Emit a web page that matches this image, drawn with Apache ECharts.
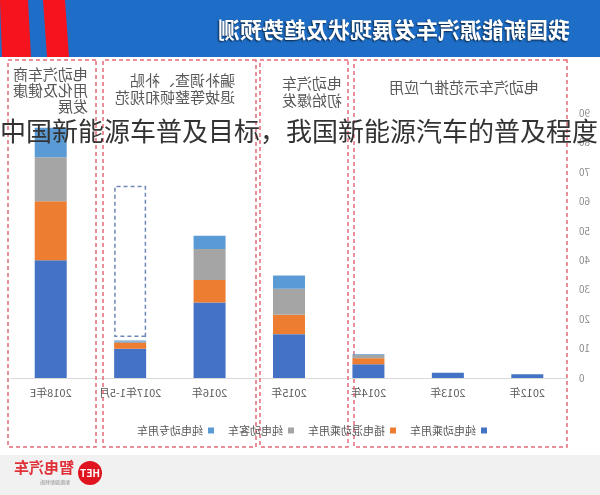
<!DOCTYPE html>
<html><head><meta charset="utf-8">
<script src="https://cdn.jsdelivr.net/npm/echarts@6/dist/echarts.min.js"></script>
<style>
html,body{margin:0;padding:0;width:600px;height:495px;overflow:hidden;background:#fff;}
#chart{position:absolute;left:0;top:0;width:600px;height:495px;transform:scaleX(-1);}
#cap{position:absolute;left:0;top:113px;width:600px;white-space:nowrap;font-family:"Noto Sans CJK SC","Noto Sans",sans-serif;font-size:26px;line-height:34px;color:#333;}
</style></head>
<body>
<div id="chart"></div>
<div id="cap">中国新能源车普及目标，我国新能源汽车的普及程度</div>
<script>
// Data (chart drawn un-mirrored, then the container is mirrored like the reference)
var categories = ['2012年','2013年','2014年','2015年','2016年','2017年1-5月','2018年E'];
var seriesNames = ['纯电动乘用车','插电混动乘用车','纯电动客车','纯电动专用车'];
var evPassenger   = [1.3, 1.8, 4.7, 14.9, 25.6, 9.9, 40];
var phevPassenger = [0, 0, 2.0, 6.6, 7.7, 2.0, 20];
var evBus         = [0, 0, 1.1, 8.8, 10.5, 0.5, 15];
var evSpecial     = [0, 0, 0.3, 4.5, 4.5, 0.3, 10];
var forecastBase  = [null, null, null, null, null, 13.9, null];
var forecastRange = [null, null, null, null, null, 51.4, null];
var yTicks = {min:0, max:90, interval:10};
var titleText = '我国新能源汽车发展现状及趋势预测';
var phaseTexts = [
  {lines:['电动汽车示范推广应用']},
  {lines:['电动汽车','初始爆发']},
  {lines:['骗补调查、补贴','退坡等整顿和规范']},
  {lines:['电动汽车商','用化及健康','发展']}
];

var colors = ['#4472c4','#ed7d31','#a5a5a5','#5b9bd5'];
var font = '"Noto Sans CJK SC","Noto Sans",sans-serif';
var chart = echarts.init(document.getElementById('chart'), null, {renderer:'canvas'});

function box(x, w){
  return {type:'rect', shape:{x:x, y:60, width:w, height:387},
    style:{fill:'none', stroke:'#e46a78', lineWidth:1.5, lineDash:[4,3]}, z:1};
}
function txt(x, y, s, align){
  return {type:'text', x:x, y:y, style:{text:s, fill:'#595959', font:'15px '+font, textAlign:align||'left', textVerticalAlign:'middle'}, z:5};
}
var graphics = [
  {type:'rect', shape:{x:0,y:0,width:600,height:57}, style:{fill:'#1e6ec8'}, z:1},
  {type:'polygon', shape:{points:[[535,0],[557,0],[553,57],[531,57]]}, style:{fill:'#f5141e'}, z:2},
  {type:'polygon', shape:{points:[[572,0],[600,0],[598,57],[569,57]]}, style:{fill:'#f5141e'}, z:2},
  {type:'text', x:30, y:30, style:{text:titleText, fill:'#fff', font:'bold 22px '+font, textAlign:'left', textVerticalAlign:'middle', textShadowColor:'rgba(0,0,0,0.7)', textShadowBlur:2, textShadowOffsetX:1, textShadowOffsetY:1}, z:3},
  box(33,213), box(252,88), box(344,153), box(504,88),
  txt(136, 87, phaseTexts[0].lines[0], 'center'),
  txt(258, 83, phaseTexts[1].lines[0]), txt(258, 100, phaseTexts[1].lines[1]),
  txt(365, 80, phaseTexts[2].lines[0]), txt(365, 97, phaseTexts[2].lines[1]),
  txt(512, 74, phaseTexts[3].lines[0]), txt(512, 90, phaseTexts[3].lines[1]), txt(512, 106, phaseTexts[3].lines[2]),
  {type:'rect', shape:{x:0,y:455,width:600,height:40}, style:{fill:'#f1f1f1'}, z:0},
  {type:'circle', shape:{cx:510, cy:473, r:12}, style:{fill:'#e0141e'}, z:2},
  {type:'text', x:510, y:473, style:{text:'HET', fill:'#fff', font:'bold 10px '+font, textAlign:'center', textVerticalAlign:'middle'}, z:3},
  {type:'text', x:526, y:467, style:{text:'智电汽车', fill:'#e0303a', font:'bold 15px '+font, textAlign:'left', textVerticalAlign:'middle'}, z:3},
  {type:'text', x:530, y:482, style:{text:'新能源新特质', fill:'#888', font:'5px '+font, textAlign:'left', textVerticalAlign:'middle'}, z:3}
];

function barSeries(name, data, i){
  return {name:name, type:'bar', stack:'total', data:data, barWidth:32, barGap:'-100%',
    itemStyle:{color:colors[i]}, z:3};
}
var series = [
  barSeries(seriesNames[0], evPassenger, 0),
  barSeries(seriesNames[1], phevPassenger, 1),
  barSeries(seriesNames[2], evBus, 2),
  barSeries(seriesNames[3], evSpecial, 3),
  {name:'base', type:'bar', stack:'forecast', data:forecastBase, barWidth:32, barGap:'-100%', silent:true,
    itemStyle:{color:'rgba(0,0,0,0)'}},
  {name:'forecast', type:'bar', stack:'forecast', data:forecastRange, barWidth:32, barGap:'-100%', silent:true,
    itemStyle:{color:'rgba(255,255,255,0)', borderColor:'#6f86b8', borderWidth:1.5, borderType:[4,3]}}
];

chart.setOption({
  animation:false,
  grid:{left:33, right:11, top:113, bottom:117},
  legend:{data:seriesNames, bottom:54, left:108, itemWidth:6, itemHeight:6, itemGap:14,
    icon:'rect', textStyle:{color:'#595959', fontSize:11, fontFamily:font}},
  xAxis:{type:'category', data:categories,
    axisLine:{lineStyle:{color:'#d9d9d9'}}, axisTick:{show:false},
    axisLabel:{color:'#595959', fontSize:11, fontFamily:font, margin:9, interval:0}},
  yAxis:{type:'value', min:yTicks.min, max:yTicks.max, interval:yTicks.interval,
    splitLine:{show:false}, axisLine:{show:false}, axisTick:{show:false},
    axisLabel:{color:'#8c8c8c', fontSize:10, fontFamily:font, margin:12}},
  graphic:graphics,
  series:series
});
</script>
</body></html>
